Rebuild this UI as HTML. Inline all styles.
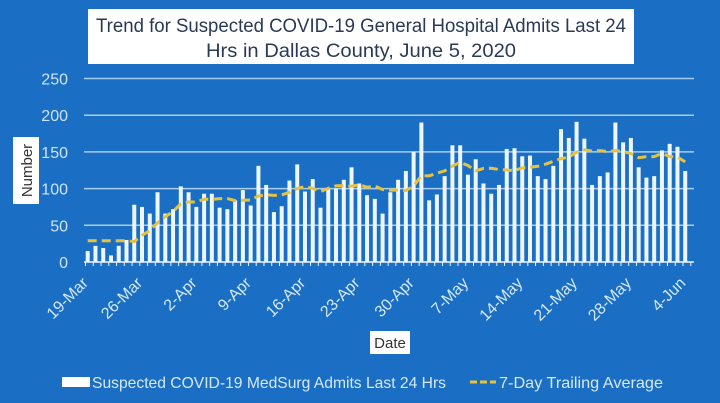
<!DOCTYPE html>
<html><head><meta charset="utf-8"><style>
html,body{margin:0;padding:0;background:#1a6fc4;}
svg{display:block;font-family:"Liberation Sans",sans-serif;}
</style></head><body>
<svg id="s" width="720" height="403" viewBox="0 0 720 403" xmlns="http://www.w3.org/2000/svg">
<rect width="720" height="403" fill="#1a6fc4"/>
<rect x="88" y="9" width="546" height="55" fill="#fff"/>
<text x="361" y="32" text-anchor="middle" font-size="19" fill="#2a3a55" textLength="530" lengthAdjust="spacingAndGlyphs">Trend for Suspected COVID-19 General Hospital Admits Last 24</text>
<text x="361" y="57" text-anchor="middle" font-size="19" fill="#2a3a55" textLength="310" lengthAdjust="spacingAndGlyphs">Hrs in Dallas County, June 5, 2020</text>
<g id="grid" stroke="#a8cdf2" stroke-width="1.5"></g>
<g id="ylab" font-size="16" fill="#cfe3f8" text-anchor="end"></g>
<rect x="13" y="137" width="26" height="67" fill="#fff"/>
<text transform="translate(32,170.5) rotate(-90)" text-anchor="middle" font-size="15" fill="#333">Number</text>
<g id="bars" fill="#eef6fd"></g>
<line x1="84" y1="262" x2="694" y2="262" stroke="#eef6fd" stroke-width="1.5"/>
<g id="ticks" stroke="#eef6fd" stroke-width="1"></g>
<polyline id="avg" fill="none" stroke="#e6c33e" stroke-width="3" stroke-dasharray="9,5"/>
<g id="xlab" font-size="16" fill="#d6e8fa" text-anchor="end"></g>
<rect x="370" y="331" width="40" height="23" fill="#fff"/>
<text x="390" y="348" text-anchor="middle" font-size="15" fill="#333">Date</text>
<rect x="62" y="377" width="28" height="10" fill="#fff"/>
<text x="92" y="388" font-size="16" fill="#d6e8fa" textLength="354" lengthAdjust="spacingAndGlyphs">Suspected COVID-19 MedSurg Admits Last 24 Hrs</text>
<line x1="470" y1="382" x2="496" y2="382" stroke="#e6c33e" stroke-width="3" stroke-dasharray="7,3"/>
<text x="499" y="388" font-size="16" fill="#d6e8fa" textLength="164" lengthAdjust="spacingAndGlyphs">7-Day Trailing Average</text>
</svg>
<script>
var NS="http://www.w3.org/2000/svg";
function el(p,t,a,txt){var e=document.createElementNS(NS,t);for(var k in a)e.setAttribute(k,a[k]);if(txt)e.textContent=txt;document.getElementById(p).appendChild(e);}
var y0=262,k=0.734;
for(var v=50;v<=250;v+=50){var y=y0-v*k;el("grid","line",{x1:84,x2:694,y1:y,y2:y});}
for(var v=0;v<=250;v+=50){el("ylab","text",{x:68,y:y0-v*k+6},String(v));}
var d=[15,22,19,9,22,30,78,75,66,95,66,72,103,95,75,93,93,74,72,84,98,77,131,105,68,76,111,133,96,113,74,100,100,112,129,107,91,86,66,95,112,124,150,190,84,92,117,159,159,119,140,107,93,105,154,155,144,145,117,113,131,181,169,191,168,105,117,122,190,163,169,129,115,117,152,161,157,124];
var dx=7.76,x0=87.7;
d.forEach(function(v,i){var x=x0+i*dx;el("bars","rect",{x:x-2,y:y0-v*k,width:4,height:v*k});});
for(var i=0;i<=78;i++){var x=85.5+i*dx;el("ticks","line",{x1:x,x2:x,y1:262,y2:266});}
var pts=[];
for(var i=0;i<d.length;i++){var s=0,n=0;for(var j=Math.max(0,i-6);j<=i;j++){s+=d[j];n++;}var a=i<6?29:s/n;pts.push((x0+i*dx).toFixed(1)+","+(y0-a*k).toFixed(1));}
document.getElementById("avg").setAttribute("points",pts.join(" "));
var labs=["19-Mar","26-Mar","2-Apr","9-Apr","16-Apr","23-Apr","30-Apr","7-May","14-May","21-May","28-May","4-Jun"];
labs.forEach(function(t,i){var x=86+i*7*dx;el("xlab","text",{transform:"translate("+(x+3)+",284) rotate(-45)"},t);});
</script>
</body></html>
